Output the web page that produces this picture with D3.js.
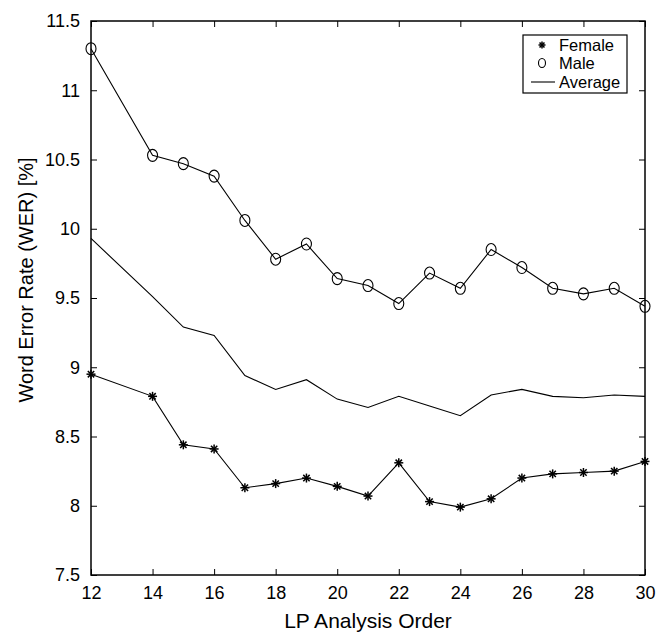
<!DOCTYPE html>
<html>
<head>
<meta charset="utf-8">
<script src="https://cdn.jsdelivr.net/npm/d3@7"></script>
<style>
body { margin: 0; background: #fff; }
svg { display: block; font-family: "Liberation Sans", Arial, sans-serif; }
</style>
</head>
<body>
<svg id="chart" width="665" height="633"></svg>
<script>
const orders = [12, 14, 15, 16, 17, 18, 19, 20, 21, 22, 23, 24, 25, 26, 27, 28, 29, 30];
const female = [8.95, 8.79, 8.44, 8.41, 8.13, 8.16, 8.20, 8.14, 8.07, 8.31, 8.03, 7.99, 8.05, 8.20, 8.23, 8.24, 8.25, 8.32];
const male = [11.30, 10.53, 10.47, 10.38, 10.06, 9.78, 9.89, 9.64, 9.59, 9.46, 9.68, 9.57, 9.85, 9.72, 9.57, 9.53, 9.57, 9.44];
const average = [9.93, 9.51, 9.29, 9.23, 8.94, 8.84, 8.91, 8.77, 8.71, 8.79, 8.72, 8.65, 8.80, 8.84, 8.79, 8.78, 8.80, 8.79];
const xTicks = [12, 14, 16, 18, 20, 22, 24, 26, 28, 30];
const yTicks = [7.5, 8, 8.5, 9, 9.5, 10, 10.5, 11, 11.5];
const xTitle = "LP Analysis Order";
const yTitle = "Word Error Rate (WER) [%]";
const legendLabels = ["Female", "Male", "Average"];

const svg = d3.select("#chart");
const L = 91, R = 645, T = 21, B = 575;
const x = d3.scaleLinear().domain([12, 30]).range([L, R]);
const y = d3.scaleLinear().domain([7.5, 11.5]).range([B, T]);
const tickLen = 6;
const fmt = d => String(d);

// axes
const gx = svg.append("g").attr("transform", `translate(0,${B})`)
  .call(d3.axisBottom(x).tickValues(xTicks).tickFormat(fmt).tickSizeInner(-tickLen).tickSizeOuter(0).tickPadding(11));
const gxt = svg.append("g").attr("transform", `translate(0,${T})`)
  .call(d3.axisTop(x).tickValues(xTicks).tickFormat("").tickSizeInner(-tickLen).tickSizeOuter(0));
const gy = svg.append("g").attr("transform", `translate(${L},0)`)
  .call(d3.axisLeft(y).tickValues(yTicks).tickFormat(fmt).tickSizeInner(-tickLen).tickSizeOuter(0).tickPadding(11));
const gyr = svg.append("g").attr("transform", `translate(${R},0)`)
  .call(d3.axisRight(y).tickValues(yTicks).tickFormat("").tickSizeInner(-tickLen).tickSizeOuter(0));
[gx, gxt, gy, gyr].forEach(g => {
  g.select(".domain").remove();
  g.selectAll("line").attr("stroke", "#000").attr("stroke-width", 1);
  g.selectAll("text").attr("fill", "#000").style("font-size", "18px").style("font-family", "'Liberation Sans', Arial, sans-serif");
});
svg.append("rect").attr("x", L).attr("y", T).attr("width", R - L).attr("height", B - T)
  .attr("fill", "none").attr("stroke", "#000").attr("stroke-width", 1.5);

// titles
svg.append("text").attr("x", 368).attr("y", 628).attr("text-anchor", "middle")
  .style("font-size", "21px").text(xTitle);
svg.append("text").attr("transform", `translate(33,280) rotate(-90)`).attr("text-anchor", "middle")
  .style("font-size", "20px").text(yTitle);

const line = d3.line().x((d, i) => x(orders[i])).y(d => y(d));
const plot = svg.append("g");
[female, male, average].forEach(s => {
  plot.append("path").datum(s).attr("d", line).attr("fill", "none").attr("stroke", "#000").attr("stroke-width", 1.1);
});

function asterisk(g, cx, cy, r) {
  const a = g.append("g").attr("transform", `translate(${cx},${cy})`);
  [0, 45, 90, 135].forEach(ang => {
    const rad = ang * Math.PI / 180;
    a.append("line").attr("x1", -r * Math.cos(rad)).attr("y1", -r * Math.sin(rad))
      .attr("x2", r * Math.cos(rad)).attr("y2", r * Math.sin(rad))
      .attr("stroke", "#000").attr("stroke-width", 1.5);
  });
}
female.forEach((v, i) => asterisk(plot, x(orders[i]), y(v), 4.5));
plot.selectAll("ellipse.m").data(male).enter().append("ellipse")
  .attr("cx", (d, i) => x(orders[i])).attr("cy", d => y(d))
  .attr("rx", 5).attr("ry", 6).attr("fill", "none").attr("stroke", "#000").attr("stroke-width", 1.1);

// legend
const lg = svg.append("g");
lg.append("rect").attr("x", 523).attr("y", 35).attr("width", 104).attr("height", 58)
  .attr("fill", "#fff").attr("stroke", "#000").attr("stroke-width", 1.2);
const rowsY = [45, 63, 82];
asterisk(lg, 542, rowsY[0], 3.5);
lg.append("ellipse").attr("cx", 542).attr("cy", rowsY[1]).attr("rx", 3.5).attr("ry", 4.5)
  .attr("fill", "none").attr("stroke", "#000").attr("stroke-width", 1.1);
lg.append("line").attr("x1", 531).attr("x2", 555).attr("y1", rowsY[2]).attr("y2", rowsY[2])
  .attr("stroke", "#000").attr("stroke-width", 1.1);
legendLabels.forEach((t, i) => {
  lg.append("text").attr("x", 559).attr("y", rowsY[i]).attr("dy", "0.35em")
    .style("font-size", "16.5px").text(t);
});
</script>
</body>
</html>
